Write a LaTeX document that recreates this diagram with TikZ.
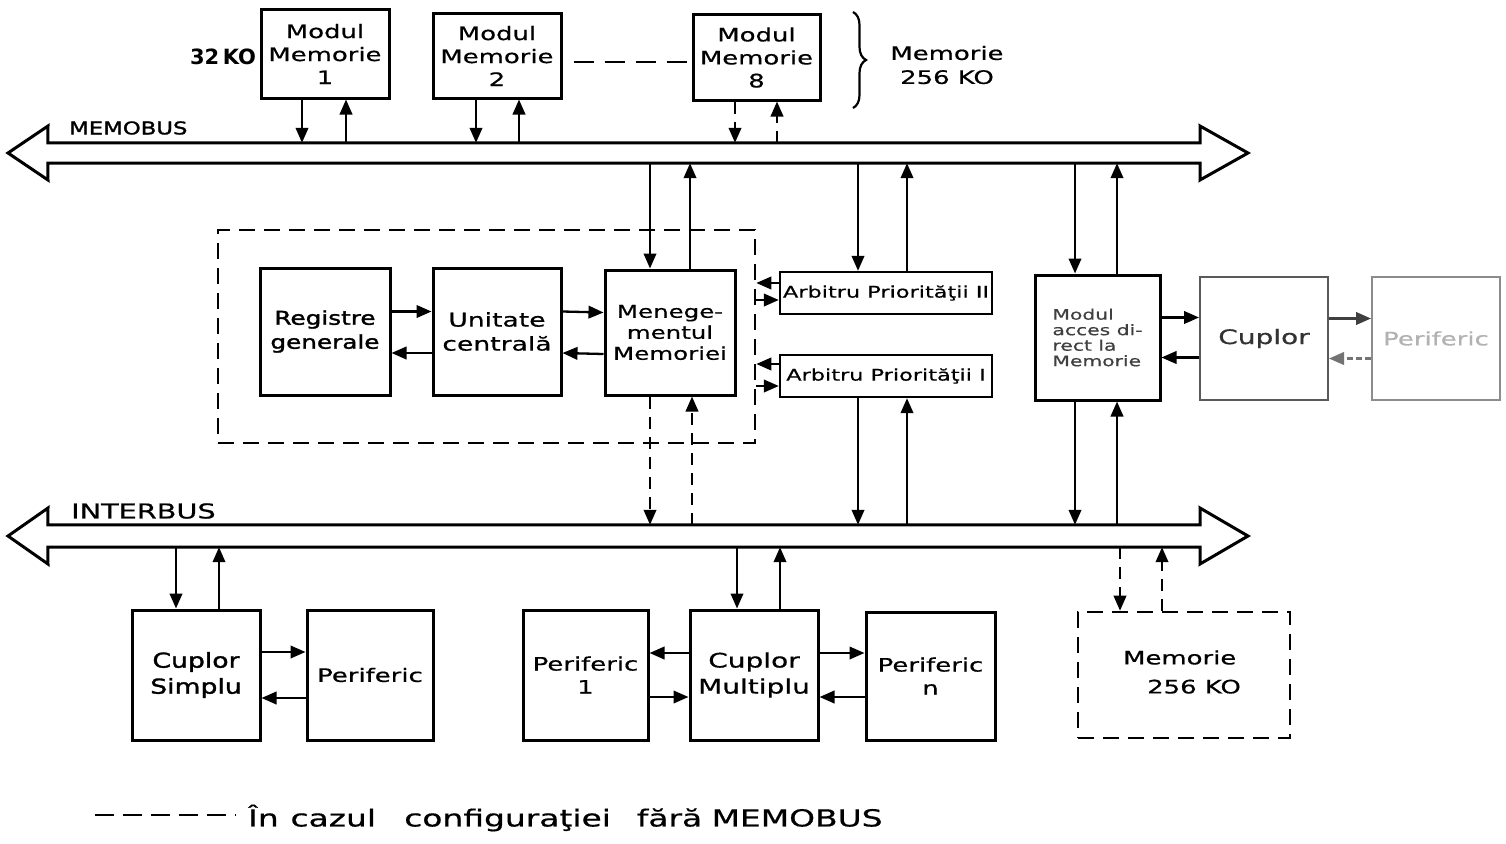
\documentclass[tikz,border=0pt]{standalone}
\usepackage{fontspec}
\setmainfont{DejaVu Sans}
\newfontfamily\hw[FakeStretch=1.4,FakeBold=0.6]{DejaVu Sans}
\newfontfamily\hwb[FakeStretch=1.3,FakeBold=1.6]{DejaVu Sans}
\usetikzlibrary{arrows.meta,decorations.pathreplacing}
\begin{document}
\begin{tikzpicture}[x=1pt,y=-1pt,
  box/.style={draw, line width=3pt, inner sep=0pt, align=center,
    font=\hw\fontsize{18.5}{23}\selectfont},
  faint/.style={draw=black!65, line width=2pt},
  dbox/.style={draw, line width=2.6pt, dash pattern=on 16pt off 9pt},
  arr/.style={line width=2.3pt, -{Triangle[length=15pt,width=12.5pt]}},
  dsh/.style={dash pattern=on 12pt off 8pt},
  lbl/.style={inner sep=0pt, align=center},
  bus/.style={line width=3pt, line join=miter},
]
\useasboundingbox (0,0) rectangle (1506,843);

% ---------- buses ----------
\node[minimum width=1152pt, minimum height=20pt, inner sep=0pt] (memo) at (624,153) {};
\draw[bus] (memo.north west) -- (memo.north east) -- (1200,126) -- (1248,153) -- (1200,180)
  -- (memo.south east) -- (memo.south west) -- (48,180) -- (8,153) -- (48,126) -- cycle;
\node[lbl, font=\hwb\fontsize{17.5}{18}\selectfont, anchor=west] (memol) at (69,128) {MEMOBUS};

\node[minimum width=1152pt, minimum height=22pt, inner sep=0pt] (inter) at (624,536) {};
\draw[bus] (inter.north west) -- (inter.north east) -- (1200,508) -- (1248,536) -- (1200,564)
  -- (inter.south east) -- (inter.south west) -- (48,564) -- (8,536) -- (48,508) -- cycle;
\node[lbl, font=\hw\fontsize{20.5}{22}\selectfont, anchor=west] (interl) at (71,511) {INTERBUS};

% ---------- memory modules ----------
\node[box, minimum width=128pt, minimum height=88pt] (m1) at (325,54) {Modul\\Memorie\\1};
\node[box, minimum width=128pt, minimum height=84pt] (m2) at (497,56) {Modul\\Memorie\\2};
\node[box, minimum width=127pt, minimum height=85pt] (m8) at (756.5,57.5) {Modul\\Memorie\\8};
\node[lbl, font=\fontsize{21}{22}\selectfont\bfseries] (k32) at (223,57) {32\,KO};
\draw[line width=2.3pt, dash pattern=on 20pt off 11pt] ([xshift=11pt,yshift=-6pt]m2.east) -- ([yshift=-4.5pt]m8.west);
\coordinate (bt) at (853,12);
\coordinate (bb) at (853,108);
\draw[line width=2.2pt, decorate, decoration={brace, amplitude=13pt}] (bt) -- (bb);
\node[lbl, font=\hw\fontsize{18.5}{24}\selectfont] (memt) at (947,65) {Memorie\\256 KO};

\draw[arr] ([xshift=-23pt]m1.south) -- ([xshift=-23pt]m1.south |- memo.north);
\draw[arr] ([xshift=21pt]m1.south |- memo.north) -- ([xshift=21pt]m1.south);
\draw[arr] ([xshift=-21pt]m2.south) -- ([xshift=-21pt]m2.south |- memo.north);
\draw[arr] ([xshift=22pt]m2.south |- memo.north) -- ([xshift=22pt]m2.south);
\draw[arr, dsh] ([xshift=-21.5pt]m8.south) -- ([xshift=-21.5pt]m8.south |- memo.north);
\draw[arr, dsh] ([xshift=20.5pt]m8.south |- memo.north) -- ([xshift=20.5pt]m8.south);

% ---------- CPU block ----------
\node[dbox, minimum width=537pt, minimum height=213pt] (cpu) at (486.5,336.5) {};
\node[box, minimum width=130pt, minimum height=127pt, font=\hwb\fontsize{19}{24}\selectfont] (reg) at (325,331.5) {Registre\\generale};
\node[box, minimum width=128pt, minimum height=127pt, font=\hw\fontsize{19}{24}\selectfont] (uc) at (497,331.5) {Unitate\\centrală};
\node[box, minimum width=130pt, minimum height=125pt, font=\hw\fontsize{17.5}{21}\selectfont] (mm) at (670,332.5) {Menege-\\mentul\\Memoriei};
\draw[arr] ([yshift=20pt]reg.east) -- ([yshift=20pt]uc.west);
\draw[arr] ([yshift=-21.5pt]uc.west) -- ([yshift=-21.5pt]reg.east);
\draw[arr] ([yshift=20pt]uc.east) -- ([yshift=20pt]mm.west);
\draw[arr] ([yshift=-21.5pt]mm.west) -- ([yshift=-21.5pt]uc.east);

\draw[arr] ([xshift=-20pt]mm.north |- memo.south) -- ([xshift=-20pt]mm.north);
\draw[arr] ([xshift=20pt]mm.north) -- ([xshift=20pt]mm.north |- memo.south);
\draw[arr, dsh] ([xshift=-20pt]mm.south) -- ([xshift=-20pt]mm.south |- inter.north);
\draw[arr, dsh] ([xshift=22pt]mm.south |- inter.north) -- ([xshift=22pt]mm.south);

% ---------- arbiters ----------
\node[box, line width=2.4pt, minimum width=212pt, minimum height=42pt, font=\hw\fontsize{16}{18}\selectfont] (arb2) at (886,293) {Arbitru Priorităţii II};
\node[box, line width=2.4pt, minimum width=212pt, minimum height=42pt, font=\hw\fontsize{16}{18}\selectfont] (arb1) at (886,376) {Arbitru Priorităţii I};
\draw[arr] ([xshift=-28pt]arb2.north |- memo.south) -- ([xshift=-28pt]arb2.north);
\draw[arr] ([xshift=21pt]arb2.north) -- ([xshift=21pt]arb2.north |- memo.south);
\draw[arr] ([xshift=-28pt]arb1.south) -- ([xshift=-28pt]arb1.south |- inter.north);
\draw[arr] ([xshift=21pt]arb1.south |- inter.north) -- ([xshift=21pt]arb1.south);
\draw[arr] ([yshift=10pt]arb2.west) -- ([yshift=10pt]arb2.west -| cpu.east);
\draw[arr] ([yshift=-7pt]arb2.west -| cpu.east) -- ([yshift=-7pt]arb2.west);
\draw[arr] ([yshift=12pt]arb1.west) -- ([yshift=12pt]arb1.west -| cpu.east);
\draw[arr] ([yshift=-10pt]arb1.west -| cpu.east) -- ([yshift=-10pt]arb1.west);

% ---------- DMA, coupler, peripheral (right) ----------
\node[box, minimum width=125pt, minimum height=125pt, font=\hw\fontsize{14.5}{15.5}\selectfont, text=black!75, align=left] (dma) at (1097.5,337.5) {Modul\\acces di-\\rect la\\Memorie};
\node[box, faint, minimum width=128pt, minimum height=123pt, text=black!80, font=\hw\fontsize{20}{23}\selectfont] (cupr) at (1264,338.5) {Cuplor};
\node[box, faint, draw=black!45, minimum width=128pt, minimum height=123pt, text=black!30] (per3) at (1436,338.5) {Periferic};
\draw[arr] ([xshift=-22.5pt]dma.north |- memo.south) -- ([xshift=-22.5pt]dma.north);
\draw[arr] ([xshift=19.5pt]dma.north) -- ([xshift=19.5pt]dma.north |- memo.south);
\draw[arr] ([xshift=-22.5pt]dma.south) -- ([xshift=-22.5pt]dma.south |- inter.north);
\draw[arr] ([xshift=19.5pt]dma.south |- inter.north) -- ([xshift=19.5pt]dma.south);
\draw[arr] ([yshift=20pt]dma.east) -- ([yshift=20pt]dma.east -| cupr.west);
\draw[arr] ([yshift=-20pt]dma.east -| cupr.west) -- ([yshift=-20pt]dma.east);
\draw[arr, draw=black!75, fill=black] ([yshift=20pt]per3.west -| cupr.east) -- ([yshift=20pt]per3.west);
\draw[arr, draw=black!55, dash pattern=on 6pt off 3pt] ([yshift=-20pt]per3.west) -- ([yshift=-20pt]per3.west -| cupr.east);

% ---------- bottom row ----------
\node[box, minimum width=128pt, minimum height=130pt, font=\hwb\fontsize{20.5}{26}\selectfont] (cs) at (196,675) {Cuplor\\Simplu};
\node[box, minimum width=126pt, minimum height=130pt, font=\hw\fontsize{18.5}{23}\selectfont] (pl) at (370,675) {Periferic};
\draw[arr] ([xshift=-20pt]cs.north |- inter.south) -- ([xshift=-20pt]cs.north);
\draw[arr] ([xshift=23pt]cs.north) -- ([xshift=23pt]cs.north |- inter.south);
\draw[arr] ([yshift=23pt]cs.east) -- ([yshift=23pt]pl.west);
\draw[arr] ([yshift=-23pt]pl.west) -- ([yshift=-23pt]cs.east);

\node[box, minimum width=125pt, minimum height=130pt] (p1) at (585.5,675) {Periferic\\1};
\node[box, minimum width=128pt, minimum height=130pt, font=\hw\fontsize{20}{26}\selectfont] (cm) at (754,675) {Cuplor\\Multiplu};
\node[box, minimum width=129pt, minimum height=128pt] (pn) at (930.5,676) {Periferic\\n};
\draw[arr] ([xshift=-17pt]cm.north |- inter.south) -- ([xshift=-17pt]cm.north);
\draw[arr] ([xshift=26pt]cm.north) -- ([xshift=26pt]cm.north |- inter.south);
\draw[arr] ([yshift=22pt]cm.west) -- ([yshift=22pt]p1.east);
\draw[arr] ([yshift=-22pt]p1.east) -- ([yshift=-22pt]cm.west);
\draw[arr] ([yshift=22pt]cm.east) -- ([yshift=22pt]cm.east -| pn.west);
\draw[arr] ([yshift=-22pt]cm.east -| pn.west) -- ([yshift=-22pt]cm.east);

\node[dbox, minimum width=212pt, minimum height=126pt] (md) at (1184,675) {};
\node[lbl, font=\hw\fontsize{18.5}{29}\selectfont, align=left] (mdt) at (1182,672) {Memorie\\\hspace*{1.3em}256 KO};
\draw[arr, dsh] ([xshift=-64pt]md.north |- inter.south) -- ([xshift=-64pt]md.north);
\draw[arr, dsh] ([xshift=-22pt]md.north) -- ([xshift=-22pt]md.north |- inter.south);

% ---------- legend ----------
\coordinate (lg1) at (95,815);
\coordinate (lg2) at (236,815);
\draw[line width=2.4pt, dash pattern=on 19pt off 9pt] (lg1) -- (lg2);
\node[lbl, font=\hw\fontsize{23.5}{26}\selectfont, anchor=west] (lgt) at (248,818) {În\hspace{0.5em}cazul\hspace{1.2em}configuraţiei\hspace{1.1em}fără\hspace{0.4em}MEMOBUS};
\end{tikzpicture}
\end{document}
